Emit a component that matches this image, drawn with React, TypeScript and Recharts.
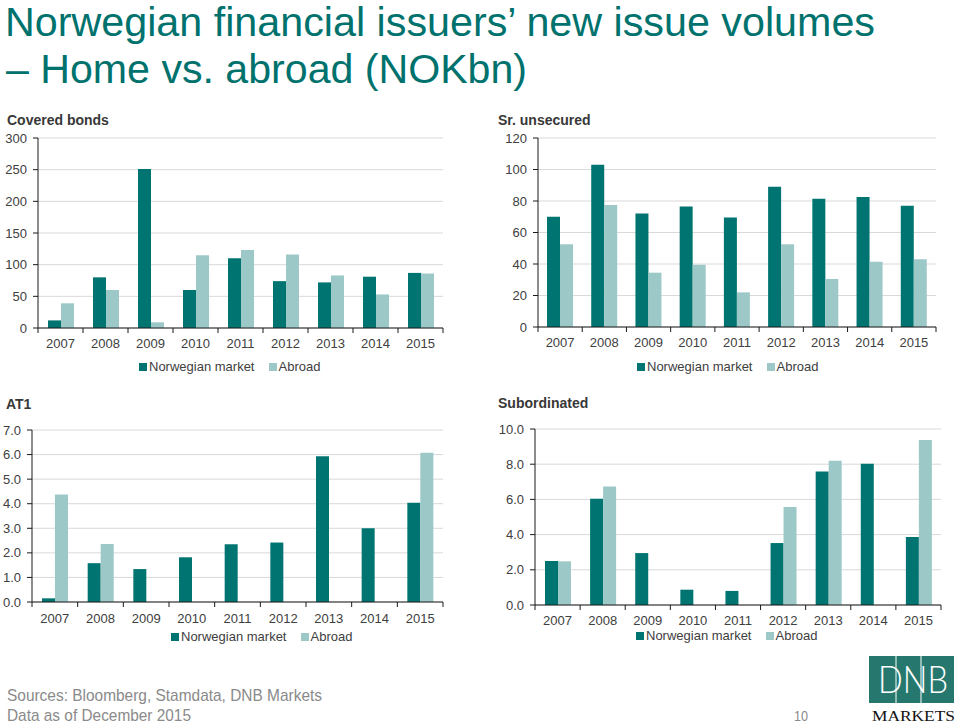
import React from 'react';
import { BarChart, Bar, XAxis, YAxis, CartesianGrid, Legend } from 'recharts';

const years = ['2007', '2008', '2009', '2010', '2011', '2012', '2013', '2014', '2015'];

const coveredNorway = [12, 80, 251, 60, 110, 74, 72, 81, 87];
const coveredAbroad = [39, 60, 9, 115, 123, 116, 83, 53, 86];

const srNorway = [70, 103, 72, 76.5, 69.5, 89, 81.5, 82.5, 77];
const srAbroad = [52.5, 77.5, 34.5, 39.5, 22, 52.5, 30.5, 41.5, 43];

const at1Norway = [0.15, 1.58, 1.34, 1.82, 2.35, 2.42, 5.93, 3.0, 4.04];
const at1Abroad = [4.38, 2.36, 0, 0, 0, 0, 0, 0, 6.07];

const subNorway = [2.5, 6.04, 2.95, 0.87, 0.8, 3.52, 7.58, 8.03, 3.86];
const subAbroad = [2.48, 6.74, 0, 0, 0, 5.57, 8.2, 0, 9.38];

const coveredTicks = [0, 50, 100, 150, 200, 250, 300];
const srTicks = [0, 20, 40, 60, 80, 100, 120];
const at1Ticks = [0, 1, 2, 3, 4, 5, 6, 7];
const subTicks = [0, 2, 4, 6, 8, 10];

const seriesNames = ['Norwegian market', 'Abroad'];

const DARK = '#007470';
const LIGHT = '#9dc8c8';
const TEAL_TEXT = '#00726e';
const TEXT = '#404040';
const FONT = '"Liberation Sans", Arial, sans-serif';

const build = (a: number[], b: number[]) =>
  years.map((y, i) => ({ year: y, norway: a[i], abroad: b[i] }));

type PanelProps = {
  left: number;
  top: number;
  width: number;
  height: number;
  yWidth: number;
  mTop: number;
  mRight: number;
  mBottom: number;
  xHeight: number;
  data: any[];
  ticks: number[];
  fmt: (v: number) => string;
  legendLeft: number;
  legendTop: number;
  labelOffset: number;
};

const LegendContent = (props: any) => {
  const payload = [...(props.payload || [])].sort(
    (a: any, b: any) => seriesNames.indexOf(a.value) - seriesNames.indexOf(b.value)
  );
  return (
    <div
      style={{
        display: 'flex',
        alignItems: 'center',
        fontFamily: FONT,
        fontSize: 13,
        color: TEXT,
        lineHeight: '16px',
        whiteSpace: 'nowrap',
      }}
    >
      {payload.map((p: any, i: number) => (
        <span key={i} style={{ display: 'flex', alignItems: 'center', marginRight: 14 }}>
          <span
            style={{ display: 'inline-block', width: 8, height: 8, background: p.color, marginRight: 2 }}
          />
          <span>{p.value}</span>
        </span>
      ))}
    </div>
  );
};

function Panel(p: PanelProps) {
  const plotW = p.width - p.yWidth - p.mRight;
  const step = plotW / years.length;
  const last = years.length - 1;
  const XTick = (t: any) => {
    const { x, y, payload, index } = t;
    return (
      <g>
        <line x1={x - step / 2} x2={x - step / 2} y1={y} y2={y + 5} stroke="#1a1a1a" />
        {index === last && (
          <line x1={x + step / 2} x2={x + step / 2} y1={y} y2={y + 5} stroke="#1a1a1a" />
        )}
        <text x={x} y={y + p.labelOffset} textAnchor="middle" fontSize={13} fill={TEXT} fontFamily={FONT}>
          {payload.value}
        </text>
      </g>
    );
  };
  return (
    <div style={{ position: 'absolute', left: p.left, top: p.top, width: p.width, height: p.height }}>
      <BarChart
        width={p.width}
        height={p.height}
        data={p.data}
        margin={{ top: p.mTop, right: p.mRight, left: 0, bottom: p.mBottom }}
        barGap={0}
        barSize={13}
      >
        <CartesianGrid vertical={false} stroke="#d9d9d9" />
        <XAxis
          dataKey="year"
          height={p.xHeight}
          tickLine={false}
          tickSize={0}
          tickMargin={0}
          axisLine={{ stroke: '#1a1a1a' }}
          tick={<XTick />}
          interval={0}
        />
        <YAxis
          width={p.yWidth}
          domain={[p.ticks[0], p.ticks[p.ticks.length - 1]]}
          ticks={p.ticks}
          tickFormatter={p.fmt}
          tickSize={5}
          tickMargin={6}
          axisLine={{ stroke: '#1a1a1a' }}
          tickLine={{ stroke: '#1a1a1a' }}
          tick={{ fontSize: 13, fill: TEXT, fontFamily: FONT }}
          interval={0}
        />
        <Legend
          verticalAlign="middle"
          align="center"
          layout="horizontal"
          content={<LegendContent />}
          wrapperStyle={{ left: p.legendLeft, top: p.legendTop, width: 320, height: 16 }}
        />
        <Bar dataKey="norway" name={seriesNames[0]} fill={DARK} isAnimationActive={false} />
        <Bar dataKey="abroad" name={seriesNames[1]} fill={LIGHT} isAnimationActive={false} />
      </BarChart>
    </div>
  );
}

const int = (v: number) => String(v);
const one = (v: number) => v.toFixed(1);

export default function App() {
  return (
    <div
      style={{
        position: 'absolute',
        left: 0,
        top: 0,
        width: 960,
        height: 725,
        background: '#ffffff',
        overflow: 'hidden',
        fontFamily: FONT,
      }}
    >
      <svg width={960} height={725} style={{ position: 'absolute', left: 0, top: 0 }}>
        <text x={5} y={36} fontSize={40} fill={TEAL_TEXT} fontFamily={FONT} textLength={870} lengthAdjust="spacingAndGlyphs">
          Norwegian financial issuers’ new issue volumes
        </text>
        <text x={6} y={83} fontSize={40} fill={TEAL_TEXT} fontFamily={FONT} textLength={521} lengthAdjust="spacingAndGlyphs">
          – Home vs. abroad (NOKbn)
        </text>

        <text x={7} y={125} fontSize={14} fontWeight="bold" fill="#383838" fontFamily={FONT}>
          Covered bonds
        </text>
        <text x={498} y={125} fontSize={14} fontWeight="bold" fill="#383838" fontFamily={FONT}>
          Sr. unsecured
        </text>
        <text x={6} y={409} fontSize={14} fontWeight="bold" fill="#383838" fontFamily={FONT}>
          AT1
        </text>
        <text x={498} y={408} fontSize={14} fontWeight="bold" fill="#383838" fontFamily={FONT}>
          Subordinated
        </text>

        <text x={7} y={701} fontSize={17} fill="#8a8a8a" fontFamily={FONT} textLength={315} lengthAdjust="spacingAndGlyphs">
          Sources: Bloomberg, Stamdata, DNB Markets
        </text>
        <text x={7} y={721} fontSize={17} fill="#8a8a8a" fontFamily={FONT} textLength={184} lengthAdjust="spacingAndGlyphs">
          Data as of December 2015
        </text>
        <text x={794} y={721} fontSize={15} fill="#8a8a8a" fontFamily={FONT} textLength={14} lengthAdjust="spacingAndGlyphs">
          10
        </text>

        <rect x={869} y={656} width={85} height={47} fill="#26786f" />
        <text x={878} y={693} fontSize={38} fontWeight={300} fill="#ffffff" fontFamily="Lato, 'Open Sans', sans-serif" textLength={70} lengthAdjust="spacingAndGlyphs">
          DNB
        </text>
        <line x1={896} x2={896} y1={656} y2={703} stroke="#ffffff" strokeWidth={1} />
        <line x1={921} x2={921} y1={656} y2={703} stroke="#ffffff" strokeWidth={1} />
        <text x={872} y={721} fontSize={15} fill="#111" fontFamily="'Liberation Serif', 'DejaVu Serif', serif" textLength={83} lengthAdjust="spacingAndGlyphs">
          MARKETS
        </text>
      </svg>

      <Panel
        left={0}
        top={100}
        width={480}
        height={290}
        yWidth={38}
        mTop={38}
        mRight={37}
        mBottom={32}
        xHeight={30}
        data={build(coveredNorway, coveredAbroad)}
        ticks={coveredTicks}
        fmt={int}
        legendLeft={139}
        legendTop={259}
        labelOffset={20}
      />
      <Panel
        left={480}
        top={100}
        width={480}
        height={290}
        yWidth={58}
        mTop={38}
        mRight={24}
        mBottom={33}
        xHeight={30}
        data={build(srNorway, srAbroad)}
        ticks={srTicks}
        fmt={int}
        legendLeft={157}
        legendTop={259}
        labelOffset={20}
      />
      <Panel
        left={0}
        top={390}
        width={480}
        height={260}
        yWidth={32}
        mTop={40}
        mRight={37}
        mBottom={18}
        xHeight={30}
        data={build(at1Norway, at1Abroad)}
        ticks={at1Ticks}
        fmt={one}
        legendLeft={171}
        legendTop={239}
        labelOffset={21}
      />
      <Panel
        left={480}
        top={390}
        width={480}
        height={260}
        yWidth={55}
        mTop={39}
        mRight={19}
        mBottom={15}
        xHeight={30}
        data={build(subNorway, subAbroad)}
        ticks={subTicks}
        fmt={one}
        legendLeft={156}
        legendTop={238}
        labelOffset={20}
      />
    </div>
  );
}
